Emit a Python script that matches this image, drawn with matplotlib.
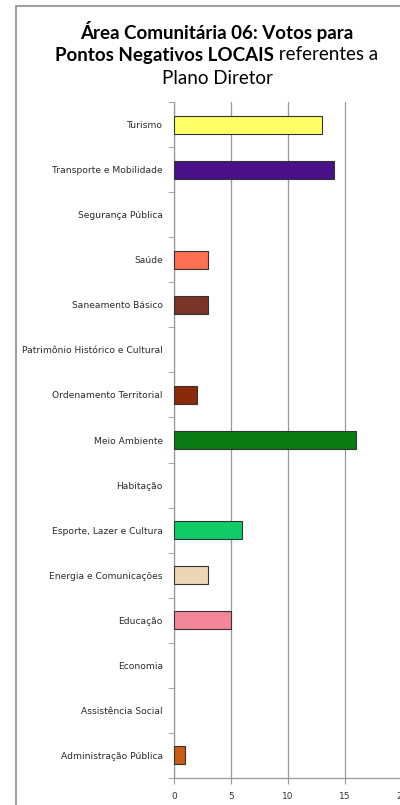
import numpy as np
import matplotlib as mpl
mpl.use("Agg")
from matplotlib import pyplot as plt
from matplotlib.patches import Rectangle

categories = ["Administração Pública", "Assistência Social", "Economia", "Educação",
              "Energia e Comunicações", "Esporte, Lazer e Cultura", "Habitação",
              "Meio Ambiente", "Ordenamento Territorial", "Patrimônio Histórico e Cultural",
              "Saneamento Básico", "Saúde", "Segurança Pública",
              "Transporte e Mobilidade", "Turismo"]
votes = [1, 0, 0, 5, 3, 6, 0, 16, 2, 0, 3, 3, 0, 14, 13]
colors = ["#CC5A12", "#FFFFFF", "#FFFFFF", "#F4869C", "#EDD6B4", "#10CC66", "#FFFFFF",
          "#0A7A12", "#8A2A08", "#FFFFFF", "#7A3428", "#FF7052", "#FFFFFF",
          "#4A1088", "#FFFF66"]
xticks = [0, 5, 10, 15, 20]

fig = plt.figure(figsize=(4.0, 8.05), dpi=100)
fig.patch.set_facecolor("white")

# chart border (cropped on the right and bottom)
fig.patches.append(Rectangle((16 / 400, -0.1), 1.0, 1 - 6 / 805 + 0.1,
                             transform=fig.transFigure, fill=False,
                             edgecolor="#8c8c8c", linewidth=1.2))

ax = fig.add_axes([174 / 400, 1 - 778 / 805, 228 / 400, (778 - 102) / 805])
y = np.arange(len(categories))
for i, v in enumerate(votes):
    if v > 0:
        ax.barh(y[i], v, height=0.4, color=colors[i], edgecolor="#333333", linewidth=0.8, zorder=3)

ax.set_xlim(0, 20)
ax.set_ylim(-0.5, len(categories) - 0.5)
ax.set_xticks(xticks)
ax.set_xticklabels([str(t) for t in xticks], fontsize=6.5, color="#333333")
ax.set_yticks(y)
ax.set_yticklabels(categories, fontsize=6.6, color="#2a2a2a")
ax.tick_params(axis="y", length=0, pad=8)
ax.set_yticks(np.arange(len(categories) + 1) - 0.5, minor=True)
ax.tick_params(axis="y", which="minor", length=4, color="#999999", direction="out")
ax.tick_params(axis="x", length=4, color="#999999", pad=6)
ax.grid(axis="x", color="#999999", linewidth=0.9, zorder=0)
for side in ["top", "right"]:
    ax.spines[side].set_visible(False)
for side in ["left", "bottom"]:
    ax.spines[side].set_color("#999999")
    ax.spines[side].set_linewidth(0.9)

# title with mixed bold / normal text
fs = 13.5
tf = "Lato"
cx = 217 / 400
fig.text(cx, 1 - 32 / 805, "Área Comunitária 06: Votos para", ha="center", va="center",
         fontsize=fs, fontweight="bold", family=tf)
r = fig.canvas.get_renderer()
t1 = fig.text(0, 1 - 55 / 805, "Pontos Negativos LOCAIS", ha="left", va="center",
              fontsize=fs, fontweight="bold", family=tf)
t2 = fig.text(0, 1 - 55 / 805, " referentes a", ha="left", va="center",
              fontsize=fs, family=tf)
w1 = t1.get_window_extent(r).width / 400
w2 = t2.get_window_extent(r).width / 400
x0 = cx - (w1 + w2) / 2
t1.set_x(x0)
t2.set_x(x0 + w1)
fig.text(cx, 1 - 78 / 805, "Plano Diretor", ha="center", va="center",
         fontsize=fs, family=tf)

fig.savefig("out.png", dpi=100)
